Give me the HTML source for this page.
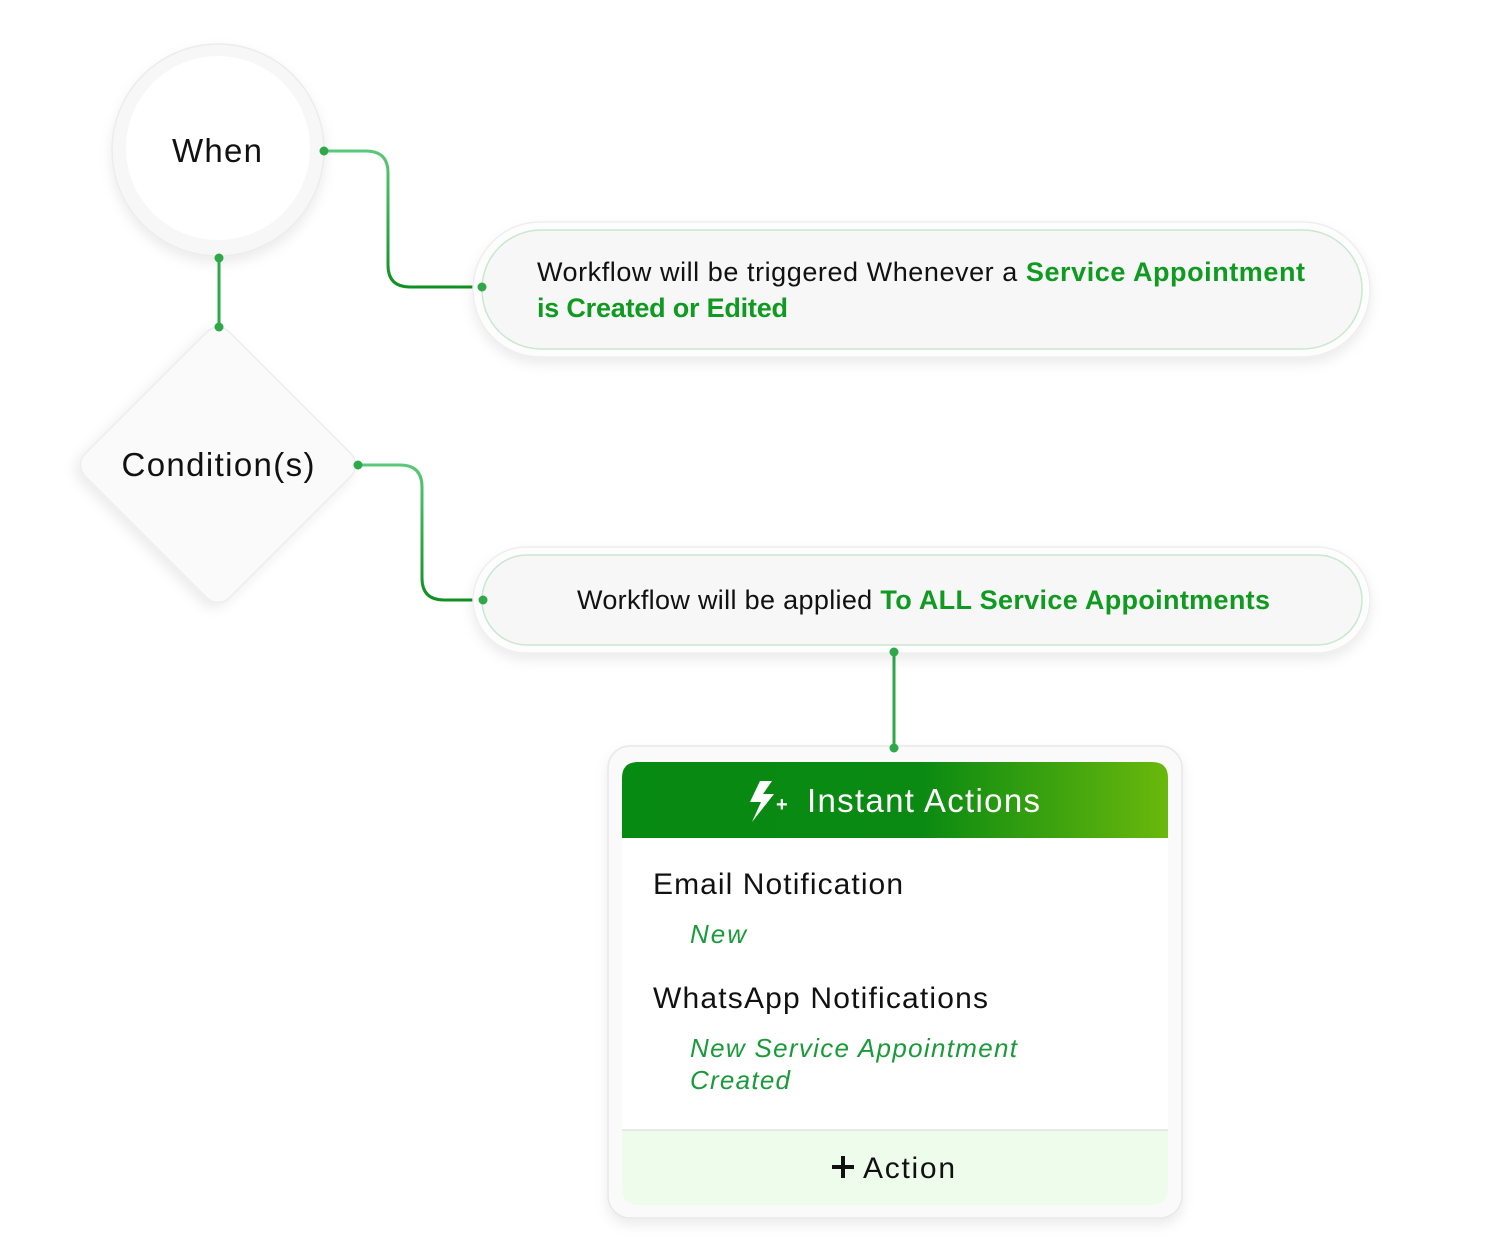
<!DOCTYPE html>
<html><head><meta charset="utf-8"><style>
html,body{margin:0;padding:0;background:#fff;width:1500px;height:1260px;overflow:hidden}
svg{display:block}
text{font-family:"Liberation Sans",sans-serif}
</style></head><body>
<svg width="1500" height="1260" viewBox="0 0 1500 1260" xmlns="http://www.w3.org/2000/svg">
<defs>
<filter id="sh" x="-20%" y="-20%" width="140%" height="150%"><feDropShadow dx="0" dy="6" stdDeviation="6" flood-color="#000" flood-opacity="0.08"/></filter>
<linearGradient id="hg" x1="0" x2="1" y1="0" y2="0"><stop offset="0" stop-color="#078a12"/><stop offset="0.55" stop-color="#0a8a12"/><stop offset="1" stop-color="#6ab80c"/></linearGradient>
<linearGradient id="lg" x1="0" x2="0" y1="0" y2="1"><stop offset="0" stop-color="#5ac87a"/><stop offset="1" stop-color="#109020"/></linearGradient>
</defs>
<!-- When circle -->
<circle cx="218" cy="150" r="106" fill="#f7f7f7" stroke="#ececec" stroke-width="1.5" filter="url(#sh)"/>
<circle cx="218" cy="148" r="92" fill="#fff"/>
<text x="217" y="162" font-size="33" text-anchor="middle" fill="#111" textLength="90">When</text>
<!-- Diamond -->
<rect x="116" y="363" width="204" height="204" rx="16" transform="rotate(45 218 465)" fill="#fafafa" stroke="#ececec" stroke-width="1.5" filter="url(#sh)"/>
<text x="218" y="476" font-size="33" text-anchor="middle" fill="#111" textLength="193">Condition(s)</text>
<!-- connectors -->
<path d="M324 151 H366 Q388 151 388 173 V265 Q388 287 410 287 H482" fill="none" stroke="url(#lg)" stroke-width="3"/>
<path d="M219 258 V327" stroke="#2fa84a" stroke-width="3"/>
<path d="M358 465 H400 Q422 465 422 487 V578 Q422 600 444 600 H483" fill="none" stroke="url(#lg)" stroke-width="3"/>
<path d="M894 652 V748" stroke="#2fa84a" stroke-width="3"/>
<!-- pill 1 -->
<rect x="473" y="222" width="897" height="135" rx="67" fill="#fdfdfd" stroke="#eeeeee" stroke-width="1.5" filter="url(#sh)"/>
<rect x="482" y="230" width="880" height="119" rx="59" fill="#f7f7f7" stroke="#c9e8cf" stroke-width="1.5"/>
<text x="537" y="281" font-size="27" fill="#111" textLength="768">Workflow will be triggered Whenever a <tspan fill="#109a22" font-weight="bold">Service Appointment</tspan></text>
<text x="537" y="317" font-size="27" fill="#109a22" font-weight="bold" textLength="251">is Created or Edited</text>
<!-- pill 2 -->
<rect x="473" y="547" width="897" height="106" rx="53" fill="#fdfdfd" stroke="#eeeeee" stroke-width="1.5" filter="url(#sh)"/>
<rect x="482" y="555" width="880" height="90" rx="45" fill="#f7f7f7" stroke="#c9e8cf" stroke-width="1.5"/>
<text x="577" y="609" font-size="27" fill="#111" textLength="693">Workflow will be applied <tspan fill="#109a22" font-weight="bold">To ALL Service Appointments</tspan></text>
<!-- card -->
<rect x="608" y="746" width="574" height="472" rx="22" fill="#fafafa" stroke="#e8e8e8" stroke-width="1.5" filter="url(#sh)"/>
<path d="M622 1130 H1168 V1188 Q1168 1205 1151 1205 H639 Q622 1205 622 1188 Z" fill="#eefcec"/>
<rect x="622" y="838" width="546" height="292" fill="#fff"/>
<line x1="622" y1="1130" x2="1168" y2="1130" stroke="#e4e4e4" stroke-width="1.5"/>
<path d="M622 838 V778 Q622 762 638 762 H1152 Q1168 762 1168 778 V838 Z" fill="url(#hg)"/>
<path d="M760 781 L750 802 H761 L752 822 L774 794 H763 L772 781 Z" fill="#fff"/>
<text x="776" y="811" font-size="20" fill="#fff" font-weight="bold">+</text>
<text x="807" y="812" font-size="33" fill="#fff" textLength="233">Instant Actions</text>
<text x="653" y="894" font-size="30" fill="#111" textLength="250">Email Notification</text>
<text x="690" y="943" font-size="26" fill="#1a9a3a" font-style="italic" textLength="56">New</text>
<text x="653" y="1008" font-size="30" fill="#111" textLength="335">WhatsApp Notifications</text>
<text x="690" y="1057" font-size="26" fill="#1a9a3a" font-style="italic" textLength="327">New Service Appointment</text>
<text x="690" y="1089" font-size="26" fill="#1a9a3a" font-style="italic" textLength="100">Created</text>
<path d="M843 1156 V1178 M832 1167 H854" stroke="#111" stroke-width="4"/>
<text x="863" y="1178" font-size="30" fill="#111" textLength="92">Action</text>
<g fill="#2fa84a"><circle cx="324" cy="151" r="4.5"/><circle cx="482" cy="287" r="4.5"/><circle cx="219" cy="258" r="4.5"/><circle cx="219" cy="327" r="4.5"/><circle cx="358" cy="465" r="4.5"/><circle cx="483" cy="600" r="4.5"/><circle cx="894" cy="652" r="4.5"/><circle cx="894" cy="748" r="4.5"/></g>
</svg>
</body></html>
